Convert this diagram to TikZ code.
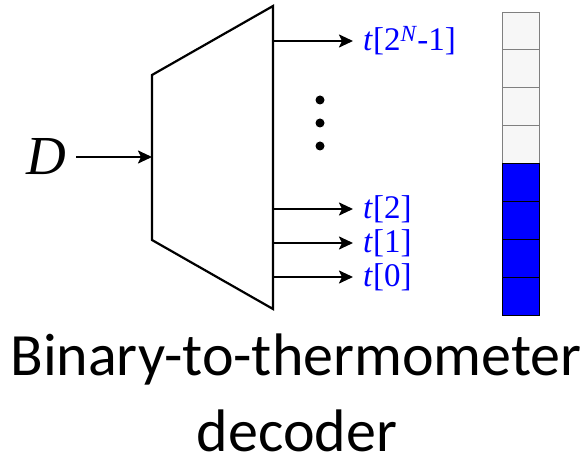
\documentclass[tikz,border=0pt]{standalone}
\usepackage{xcolor}
\usepackage{fontspec}
\setmainfont{Carlito}
\newfontfamily\serifface{Liberation Serif}
\usetikzlibrary{arrows.meta, positioning, calc}

\begin{document}
\begin{tikzpicture}[x=1pt, y=-1pt, >={Stealth[length=14pt, width=13pt, inset=3pt]},
    wire/.style={line width=2.2pt, ->},
    outlbl/.style={anchor=west, inner sep=10pt, text=blue, font=\serifface\fontsize{33}{33}\selectfont},
    cell/.style={draw, line width=0.9pt, minimum width=37pt, minimum height=37.9pt, inner sep=0pt},
    title/.style={anchor=base, inner sep=0pt, font=\fontsize{60}{62}\selectfont}]
    \useasboundingbox (0,0) rectangle (587,457);

    % decoder block
    \draw[line width=2.2pt] (152,75) -- (273,6) -- (273,309) -- (152,240) -- cycle;
    \coordinate (in) at (152,157);
    \coordinate (o3) at (273,41);
    \coordinate (o2) at (273,209);
    \coordinate (o1) at (273,243);
    \coordinate (o0) at (273,277);

    % input
    \node[anchor=east, inner sep=10pt, font=\serifface\itshape\fontsize{55}{55}\selectfont] (D) at (76,157) {D};
    \draw[wire] (D.east) -- (in);

    % outputs
    \node[outlbl] (t3) at (353,41) {\textit{t}[2\textsuperscript{\textit{N}}-1]};
    \node[outlbl] (t2) at (353,209) {\textit{t}[2]};
    \node[outlbl] (t1) at (353,243) {\textit{t}[1]};
    \node[outlbl] (t0) at (353,277) {\textit{t}[0]};
    \foreach \k in {0,...,3}
        \draw[wire] (o\k) -- (t\k.west);
    \foreach \y in {100,123,146}
        \fill (320,\y) circle (4.5pt);

    % thermometer code
    \foreach \i in {0,...,7} {
        \ifnum\i<4
            \node[cell, draw=gray, fill=gray!6] (c\i) at (520.5,{12+37.9*\i+18.95}) {};
        \else
            \node[cell, fill=blue] (c\i) at (520.5,{12+37.9*\i+18.95}) {};
        \fi
    }

    % caption
    \node[title] (cap1) at (296,375) {Binary-to-thermometer};
    \node[title] (cap2) at (297,451) {decoder};
\end{tikzpicture}
\end{document}
